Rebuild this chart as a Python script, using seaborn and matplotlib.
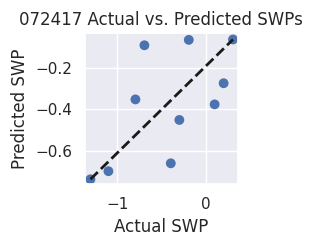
import numpy as np
import seaborn as sns
import matplotlib
matplotlib.use('Agg')
import matplotlib.pyplot as plt

# actual vs predicted soil water potential
actual = [-1.306, -1.102, -0.796, -0.694, -0.191, -0.395, -0.298, 0.102, 0.204, 0.310]
predicted = [-0.738, -0.699, -0.353, -0.092, -0.066, -0.661, -0.452, -0.377, -0.275, -0.064]

sns.set_theme()

fig = plt.figure(figsize=(3.13, 2.48), dpi=100)
ax = fig.add_axes([0.272, 0.257, 0.487, 0.609])

sns.scatterplot(x=actual, y=predicted, ax=ax, s=50, edgecolor='none')

# 1:1 style line from min to max
lo_x, hi_x = min(actual), max(actual)
lo_y, hi_y = min(predicted), max(predicted)
ax.plot([lo_x, hi_x], [lo_y, hi_y], 'k--', linewidth=2)

ax.set_xlim(-1.366, 0.362)
ax.set_ylim(-0.762, -0.034)
ax.set_xticks([-1, 0])
ax.set_yticks([-0.6, -0.4, -0.2])

ax.set_xlabel('Actual SWP')
ax.set_ylabel('Predicted SWP')
ax.set_title('072417 Actual vs. Predicted SWPs')

fig.savefig('out.png', dpi=100)
